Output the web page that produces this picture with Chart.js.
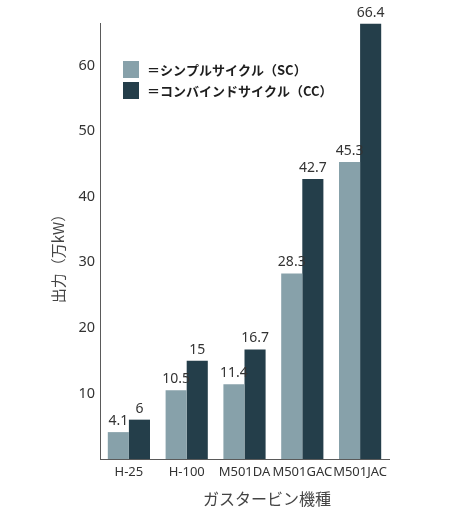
<!DOCTYPE html>
<html>
<head>
<meta charset="utf-8">
<script src="https://cdn.jsdelivr.net/npm/chart.js@4"></script>
<style>
html,body{margin:0;padding:0;background:#fff;}
#wrap{width:449px;height:520px;position:relative;}
</style>
</head>
<body>
<div id="wrap"><canvas id="c" width="449" height="520"></canvas></div>
<script>
const categories = ['H-25', 'H-100', 'M501DA', 'M501GAC', 'M501JAC'];
const scValues = [4.1, 10.5, 11.4, 28.3, 45.3];
const ccValues = [6, 15, 16.7, 42.7, 66.4];
const yTicks = [10, 20, 30, 40, 50, 60];
const seriesNames = ['＝シンプルサイクル（SC）', '＝コンバインドサイクル（CC）'];
const yTitle = '出力（万kW）';
const xTitle = 'ガスタービン機種';

const SC_COLOR = '#87a1aa';
const CC_COLOR = '#243e4a';
const FONT = '"Noto Sans", "Noto Sans CJK JP", sans-serif';
const JFONT = '"Noto Sans CJK JP", "Noto Sans", sans-serif';

const overlay = {
  id: 'overlay',
  afterDatasetsDraw(chart) {
    const ctx = chart.ctx;
    ctx.save();
    // data labels
    ctx.font = '14px ' + FONT;
    ctx.fillStyle = '#333';
    ctx.textAlign = 'center';
    ctx.textBaseline = 'bottom';
    chart.data.datasets.forEach((ds, i) => {
      chart.getDatasetMeta(i).data.forEach((bar, j) => {
        ctx.fillText(String(ds.data[j]), bar.x, bar.y - 4);
      });
    });
    // legend
    const ca = chart.chartArea;
    const lx = ca.left + 23, ly = ca.top + 38;
    [SC_COLOR, CC_COLOR].forEach((col, i) => {
      const y = ly + i * 21;
      ctx.fillStyle = col;
      ctx.fillRect(lx, y, 16, 17);
      ctx.fillStyle = '#1e1e1e';
      ctx.font = 'bold 13px ' + JFONT;
      ctx.textAlign = 'left';
      ctx.textBaseline = 'middle';
      ctx.fillText(seriesNames[i], lx + 24, y + 9);
    });
    // axis titles
    ctx.fillStyle = '#444';
    ctx.font = '15px ' + JFONT;
    ctx.textAlign = 'center';
    ctx.textBaseline = 'middle';
    ctx.save();
    ctx.translate(58, 255);
    ctx.rotate(-Math.PI / 2);
    ctx.fillText(yTitle, 0, 0);
    ctx.restore();
    ctx.font = '16px ' + JFONT;
    ctx.fillText(xTitle, 267, 499);
    ctx.restore();
  }
};

new Chart(document.getElementById('c'), {
  type: 'bar',
  data: {
    labels: categories,
    datasets: [
      { label: seriesNames[0], data: scValues, backgroundColor: SC_COLOR },
      { label: seriesNames[1], data: ccValues, backgroundColor: CC_COLOR }
    ]
  },
  options: {
    responsive: false,
    animation: false,
    devicePixelRatio: 1,
    layout: { padding: { top: 23, right: 60, left: 0, bottom: 0 } },
    plugins: { legend: { display: false }, tooltip: { enabled: false } },
    datasets: { bar: { categoryPercentage: 0.73, barPercentage: 1.0 } },
    scales: {
      x: {
        grid: { display: false, drawTicks: false },
        border: { display: true, color: '#5a5a5a', width: 1 },
        ticks: { color: '#333', font: { size: 13, family: FONT }, padding: 5, maxRotation: 0, autoSkip: false },
        afterFit(scale) { scale.height = 61; }
      },
      y: {
        min: 0,
        max: 66.5,
        grid: { display: false, drawTicks: false },
        border: { display: true, color: '#5a5a5a', width: 1 },
        ticks: { color: '#333', font: { size: 14.5, family: FONT }, padding: 5 },
        afterBuildTicks(scale) { scale.ticks = yTicks.map(v => ({ value: v })); },
        afterFit(scale) { scale.width = 100; }
      }
    }
  },
  plugins: [overlay]
});
</script>
</body>
</html>
